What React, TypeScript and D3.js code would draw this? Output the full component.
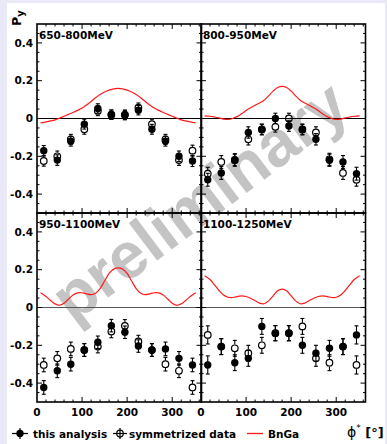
import React from 'react';
import * as d3 from 'd3';

// ---------- data ----------
const PHI_BINS = [15, 45, 75, 105, 135, 165, 195, 225, 255, 285, 315, 345];
const PANEL_LABELS = ['650-800MeV', '800-950MeV', '950-1100MeV', '1100-1250MeV'];

const THIS_TL = [-0.17, -0.22, -0.12, -0.03, 0.053, 0.02, 0.018, 0.044, -0.057, -0.12, -0.2, -0.225];
const SYM_TL = [-0.225, -0.2, -0.11, -0.057, 0.04, 0.02, 0.02, 0.057, -0.03, -0.11, -0.22, -0.17];
const ERR_TL = [0.027, 0.028, 0.026, 0.026, 0.025, 0.025, 0.025, 0.025, 0.026, 0.026, 0.028, 0.029];

const THIS_TR = [-0.324, -0.288, -0.218, -0.074, -0.058, 0.0, -0.04, -0.058, -0.11, -0.221, -0.23, -0.292];
const SYM_TR = [-0.292, -0.23, -0.221, -0.11, -0.058, -0.044, 0.0, -0.058, -0.074, -0.216, -0.288, -0.324];
const ERR_TR = [0.034, 0.034, 0.032, 0.03, 0.028, 0.028, 0.028, 0.028, 0.03, 0.032, 0.034, 0.034];

const THIS_BL = [-0.423, -0.335, -0.3, -0.225, -0.184, -0.096, -0.131, -0.204, -0.225, -0.219, -0.269, -0.304];
const SYM_BL = [-0.304, -0.269, -0.219, -0.225, -0.207, -0.127, -0.097, -0.18, -0.225, -0.3, -0.335, -0.423];
const ERR_BL = [0.036, 0.036, 0.036, 0.034, 0.033, 0.033, 0.033, 0.033, 0.034, 0.036, 0.036, 0.036];

const THIS_BR = [-0.304, -0.207, -0.292, -0.269, -0.1, -0.136, -0.136, -0.2, -0.242, -0.216, -0.207, -0.145];
const SYM_BR = [-0.145, -0.207, -0.216, -0.242, -0.2, -0.136, -0.136, -0.1, -0.269, -0.292, -0.207, -0.304];
const ERR_BR = [0.048, 0.042, 0.042, 0.042, 0.042, 0.04, 0.04, 0.042, 0.042, 0.042, 0.042, 0.048];

const MODEL_PHI = [8, 20, 30, 40, 50, 60, 70, 80, 90, 100, 110, 120, 130, 140, 150, 160, 170, 180,
  190, 200, 210, 220, 230, 240, 250, 260, 270, 280, 290, 300, 310, 320, 330, 340, 352];
const MODEL_TL = [-0.023, -0.018, -0.013, -0.007, 0.002, 0.012, 0.022, 0.032, 0.043, 0.055, 0.072, 0.09, 0.11, 0.127, 0.14, 0.15, 0.157, 0.159,
  0.157, 0.15, 0.14, 0.127, 0.11, 0.09, 0.072, 0.055, 0.043, 0.032, 0.022, 0.012, 0.002, -0.007, -0.013, -0.018, -0.023];
const MODEL_TR = [0.014, 0.012, 0.008, 0.003, -0.003, -0.005, 0.0, 0.01, 0.025, 0.042, 0.057, 0.07, 0.082, 0.097, 0.12, 0.145, 0.164, 0.17,
  0.164, 0.145, 0.12, 0.097, 0.082, 0.07, 0.057, 0.042, 0.025, 0.01, 0.0, -0.005, -0.003, 0.003, 0.008, 0.012, 0.014];
const MODEL_BL = [0.078, 0.058, 0.037, 0.019, 0.012, 0.022, 0.045, 0.066, 0.077, 0.078, 0.072, 0.068, 0.076, 0.1, 0.14, 0.18, 0.203, 0.21,
  0.203, 0.18, 0.14, 0.1, 0.076, 0.068, 0.072, 0.078, 0.077, 0.066, 0.045, 0.022, 0.012, 0.019, 0.037, 0.058, 0.078];
const MODEL_BR = [0.168, 0.148, 0.12, 0.09, 0.066, 0.054, 0.053, 0.058, 0.061, 0.058, 0.049, 0.036, 0.023, 0.02, 0.035, 0.062, 0.088, 0.097,
  0.088, 0.062, 0.035, 0.02, 0.023, 0.036, 0.049, 0.058, 0.061, 0.058, 0.053, 0.054, 0.066, 0.09, 0.12, 0.148, 0.168];

const Y_TICKS = [0.4, 0.2, 0, -0.2, -0.4];
const Y_TICK_LABELS = ['0.4', '0.2', '0', '-0.2', '-0.4'];
const X_TICKS = [0, 100, 200, 300];
const X_TICK_LABELS = ['0', '100', '200', '300'];
const LEGEND_LABELS = ['this analysis', 'symmetrized data', 'BnGa'];

// ---------- layout ----------
const W = 387, H = 444;
const PX = [37, 201];
const PY = [24, 213];
const PW = 164.5, PH = 189;
const FONT = 'DejaVu Sans, Arial, sans-serif';
const RED = '#ff1a1a';

const panels = [
  { x0: PX[0], y0: PY[0], label: PANEL_LABELS[0], th: THIS_TL, sy: SYM_TL, er: ERR_TL, model: MODEL_TL, left: true, bottom: false, zero: '#000' },
  { x0: PX[1], y0: PY[0], label: PANEL_LABELS[1], th: THIS_TR, sy: SYM_TR, er: ERR_TR, model: MODEL_TR, left: false, bottom: false, zero: '#000' },
  { x0: PX[0], y0: PY[1], label: PANEL_LABELS[2], th: THIS_BL, sy: SYM_BL, er: ERR_BL, model: MODEL_BL, left: true, bottom: true, zero: '#555' },
  { x0: PX[1], y0: PY[1], label: PANEL_LABELS[3], th: THIS_BR, sy: SYM_BR, er: ERR_BR, model: MODEL_BR, left: false, bottom: true, zero: '#555' },
];

function Panel({ p }: { p: any }) {
  const x = d3.scaleLinear().domain([0, 365]).range([p.x0, p.x0 + PW]);
  const y = d3.scaleLinear().domain([-0.5, 0.5]).range([p.y0 + PH, p.y0]);
  const line = d3.line<number>()
    .x((_, i) => x(MODEL_PHI[i]))
    .y((d) => y(d))
    .curve(d3.curveCatmullRom);
  const xMinor = d3.range(20, 365, 20);
  const yMinor = d3.range(-9, 10).map((k) => k * 0.05);
  const ticks: any[] = [];
  xMinor.forEach((v) => {
    const len = v % 100 === 0 ? 5 : 2.5;
    ticks.push(<line key={'xb' + v} x1={x(v)} x2={x(v)} y1={p.y0 + PH} y2={p.y0 + PH - len} />);
    ticks.push(<line key={'xt' + v} x1={x(v)} x2={x(v)} y1={p.y0} y2={p.y0 + len} />);
  });
  yMinor.forEach((v, i) => {
    const major = Math.round(v * 100) % 20 === 0;
    const len = major ? 5 : 2.5;
    ticks.push(<line key={'yl' + i} x1={p.x0} x2={p.x0 + len} y1={y(v)} y2={y(v)} />);
    ticks.push(<line key={'yr' + i} x1={p.x0 + PW} x2={p.x0 + PW - len} y1={y(v)} y2={y(v)} />);
  });
  const r = 3.7;
  const cap = 2;
  return (
    <g>
      <line x1={p.x0} x2={p.x0 + PW} y1={y(0)} y2={y(0)} stroke={p.zero} strokeWidth={1} />
      <path d={line(p.model) || ''} fill="none" stroke={RED} strokeWidth={1.2} />
      {p.sy.map((v: number, i: number) => {
        const cx = x(PHI_BINS[i]), cy = y(v);
        const e = y(v - p.er[i]) - cy;
        return (
          <g key={'s' + i} stroke="#000" strokeWidth={1.1}>
            <line x1={cx} x2={cx} y1={cy - e} y2={cy - r} />
            <line x1={cx} x2={cx} y1={cy + r} y2={cy + e} />
            <line x1={cx - cap} x2={cx + cap} y1={cy - e} y2={cy - e} />
            <line x1={cx - cap} x2={cx + cap} y1={cy + e} y2={cy + e} />
            <circle cx={cx} cy={cy} r={r - 0.4} fill="none" strokeWidth={1.2} />
          </g>
        );
      })}
      {p.th.map((v: number, i: number) => {
        const cx = x(PHI_BINS[i]), cy = y(v);
        const e = y(v - p.er[i]) - cy;
        return (
          <g key={'t' + i} stroke="#000" strokeWidth={1.1}>
            <line x1={cx} x2={cx} y1={cy - e} y2={cy + e} />
            <line x1={cx - cap} x2={cx + cap} y1={cy - e} y2={cy - e} />
            <line x1={cx - cap} x2={cx + cap} y1={cy + e} y2={cy + e} />
            <circle cx={cx} cy={cy} r={r} fill="#000" stroke="none" />
          </g>
        );
      })}
      <g stroke="#000" strokeWidth={1}>{ticks}</g>
      <rect x={p.x0} y={p.y0} width={PW} height={PH} fill="none" stroke="#000" strokeWidth={1.6} />
      <text x={p.x0 + 2} y={p.y0 + 14.5} fontFamily={FONT} fontWeight="bold" fontSize={10.5} fill="#000">{p.label}</text>
      {p.left && Y_TICKS.map((v, i) => (
        <text key={'yl' + i} x={p.x0 - 4} y={y(v)} dy="0.36em" textAnchor="end" fontFamily={FONT} fontWeight="bold" fontSize={10.5} fill="#000">{Y_TICK_LABELS[i]}</text>
      ))}
      {p.bottom && X_TICKS.map((v, i) => (
        <text key={'xl' + i} x={x(v)} y={416} textAnchor="middle" fontFamily={FONT} fontWeight="bold" fontSize={10.5} fill="#000">{X_TICK_LABELS[i]}</text>
      ))}
    </g>
  );
}

export default function App() {
  const wcx = 201, wcy = 203;
  return (
    <svg width={W} height={H} style={{ position: 'absolute', left: 0, top: 0, display: 'block' }}>
      <rect x={0} y={0} width={W} height={H} fill="#e9e9f7" />
      <rect x={7} y={3} width={378} height={441} fill="#ffffff" />
      <text x={wcx} y={wcy} dy="0.3em" transform={`rotate(-37, ${wcx}, ${wcy})`} textAnchor="middle"
        fontFamily="Liberation Sans, Arial, sans-serif" fontWeight="bold" fontSize={65} fill="#c4c4c4">preliminary</text>
      {panels.map((p, i) => <Panel key={i} p={p} />)}
      <text transform="translate(20.5, 26) rotate(-90)" fontFamily={FONT} fontWeight="bold" fontSize={12.5} fill="#000">
        P<tspan dy={3} fontSize={10}>y</tspan>
      </text>
      <g stroke="#000" strokeWidth={1.2}>
        <line x1={12} x2={28} y1={433.5} y2={433.5} />
        <line x1={20} x2={20} y1={428} y2={439} />
        <circle cx={20} cy={433.5} r={3.7} fill="#000" stroke="none" />
        <line x1={113} x2={127} y1={433.5} y2={433.5} />
        <line x1={120} x2={120} y1={428} y2={439} />
        <circle cx={120} cy={433.5} r={3.3} fill="none" />
      </g>
      <line x1={247} x2={263} y1={433.5} y2={433.5} stroke={RED} strokeWidth={1.3} />
      <text x={33} y={438} fontFamily={FONT} fontWeight="bold" fontSize={10.5} fill="#000">{LEGEND_LABELS[0]}</text>
      <text x={129} y={438} fontFamily={FONT} fontWeight="bold" fontSize={10.5} fill="#000">{LEGEND_LABELS[1]}</text>
      <text x={268} y={438} fontFamily={FONT} fontWeight="bold" fontSize={10.5} fill="#000">{LEGEND_LABELS[2]}</text>
      <text x={347} y={437} fill="#000">
        <tspan fontFamily="DejaVu Sans, sans-serif" fontSize={14}>ϕ</tspan>
        <tspan dy={-6} fontFamily={FONT} fontSize={9}>*</tspan>
        <tspan dy={6} fontFamily={FONT} fontWeight="bold" fontSize={13}> [°]</tspan>
      </text>
    </svg>
  );
}
